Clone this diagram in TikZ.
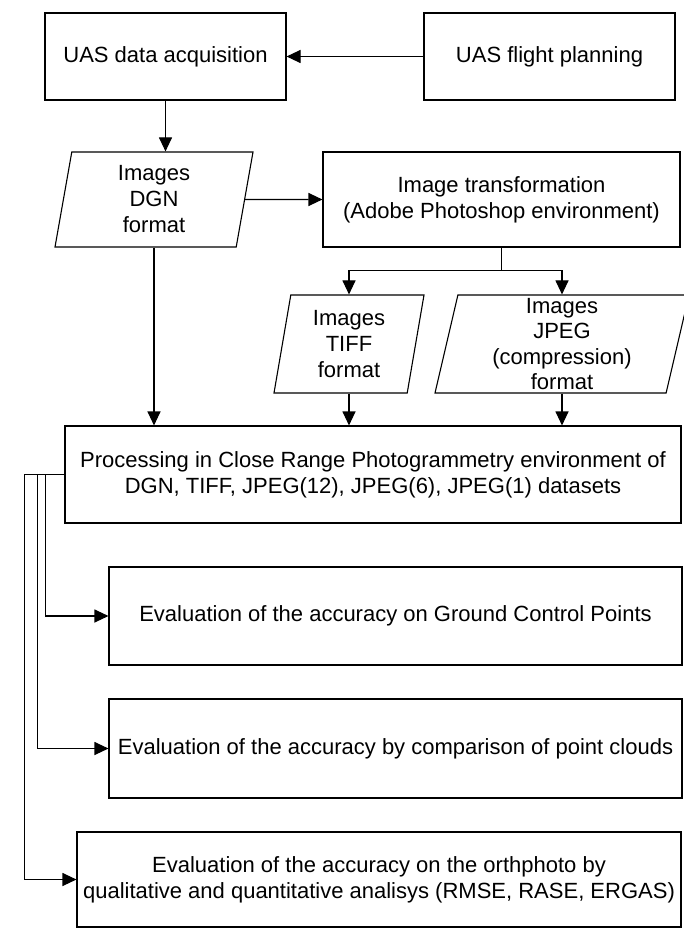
\documentclass[tikz,border=0pt]{standalone}
\usepackage{fontspec}
\setmainfont{Liberation Sans}
\usetikzlibrary{shapes.geometric,arrows.meta,calc}

\begin{document}
\begin{tikzpicture}[x=1pt, y=-1pt, line width=1.1pt,
    every node/.style={font=\fontsize{22}{26}\selectfont, align=center},
    box/.style={draw, rectangle, inner sep=2pt},
    data/.style={draw, trapezium, trapezium left angle=76, trapezium right angle=104,
      trapezium stretches body, inner xsep=2pt, inner ysep=0pt},
    arr/.style={-{Triangle[length=14pt, width=13pt]}}]
  \useasboundingbox (0,0) rectangle (684,928);

  \node[box, minimum width=241pt, minimum height=87pt] (acq) at (165.5,56.5) {UAS data acquisition};
  \node[box, minimum width=251pt, minimum height=87pt] (plan) at (549.5,56.5) {UAS flight planning};
  \node[data, minimum width=198pt, minimum height=95pt] (dgn) at (154,199.5) {Images\\DGN\\format};
  \node[box, minimum width=357pt, minimum height=95pt] (trans) at (501.5,199.5) {Image transformation\\(Adobe Photoshop environment)};
  \node[data, minimum width=150pt, minimum height=98pt] (tiff) at (349,344) {Images\\TIFF\\format};
  \node[data, minimum width=254pt, minimum height=98pt,
    font=\fontsize{22}{25.5}\selectfont] (jpeg) at (562,344) {Images\\JPEG\\(compression)\\format};
  \node[box, minimum width=616pt, minimum height=97pt] (proc) at (373,474.5)
    {Processing in Close Range Photogrammetry environment of\\DGN, TIFF, JPEG(12), JPEG(6), JPEG(1) datasets};
  \node[box, minimum width=573pt, minimum height=98pt] (gcp) at (395.5,616) {Evaluation of the accuracy on Ground Control Points};
  \node[box, minimum width=573pt, minimum height=99pt] (cloud) at (395.5,748.5) {Evaluation of the accuracy by comparison of point clouds};
  \node[box, minimum width=604pt, minimum height=95pt] (ortho) at (379,879.5)
    {Evaluation of the accuracy on the orthphoto by\\qualitative and quantitative analisys (RMSE, RASE, ERGAS)};

  \draw[arr] (plan.west) -- (acq.east);
  \draw[arr] (acq.south) -- (acq.south |- dgn.north);
  \draw[arr] (dgn.east) -- (trans.west);
  \draw (trans.south) -- ++(0,23) coordinate (split);
  \draw[arr] (split) -| (tiff.center |- tiff.north);
  \draw[arr] (split) -| (jpeg.center |- jpeg.north);
  \draw[arr] (dgn.center |- dgn.south) -- (dgn.center |- proc.north);
  \draw[arr] (tiff.center |- tiff.south) -- (tiff.center |- proc.north);
  \draw[arr] (jpeg.center |- jpeg.south) -- (jpeg.center |- proc.north);
  \draw[arr] (proc.west) -- ++(-19,0) |- (gcp.west);
  \draw[arr] (proc.west) -- ++(-27,0) |- (cloud.west);
  \draw[arr] (proc.west) -- ++(-40,0) |- (ortho.west);
\end{tikzpicture}
\end{document}
